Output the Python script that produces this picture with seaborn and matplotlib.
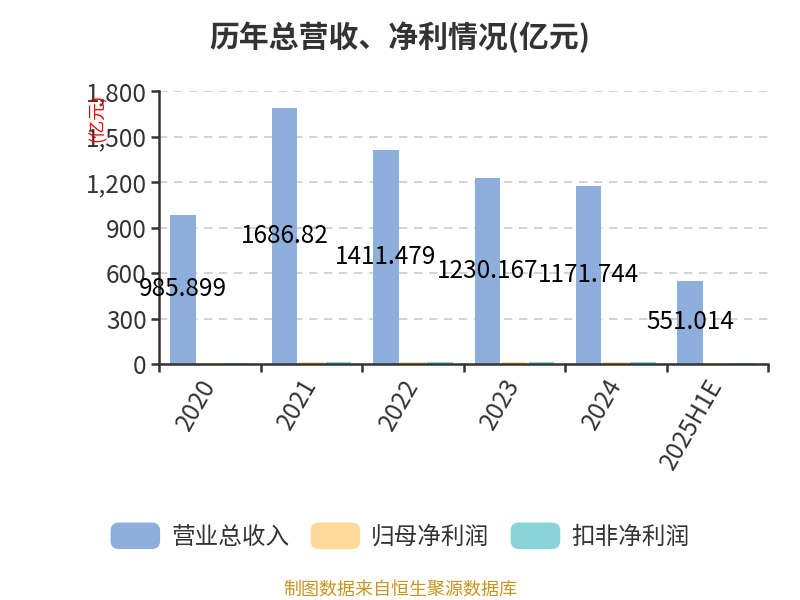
import pandas as pd
import matplotlib.pyplot as plt
import seaborn as sns
from matplotlib.patches import Patch, FancyBboxPatch
from matplotlib.legend_handler import HandlerPatch
from matplotlib.ticker import FuncFormatter, FixedLocator

# Data
years = ["2020", "2021", "2022", "2023", "2024", "2025H1E"]
revenue = [985.899, 1686.82, 1411.479, 1230.167, 1171.744, 551.014]
net_profit = [9.5, 12.5, 13.3, 15.1, 15.8, 9.8]
deducted_profit = [9.1, 12.0, 12.9, 14.6, 15.2, 9.4]
series_names = ["营业总收入", "归母净利润", "扣非净利润"]
colors = ["#8eaedb", "#ffd99a", "#88d4d8"]

df = pd.DataFrame({
    "year": years * 3,
    "value": revenue + net_profit + deducted_profit,
    "series": [series_names[0]] * 6 + [series_names[1]] * 6 + [series_names[2]] * 6,
})

sns.set_theme(style="white")
plt.rcParams["font.family"] = ["Noto Sans CJK SC", "DejaVu Sans"]

fig = plt.figure(figsize=(8, 6), dpi=100)
ax = fig.add_axes([0.199, 0.393, 0.761, 0.455])

sns.barplot(data=df, x="year", y="value", hue="series", palette=colors,
            saturation=1, width=0.8, gap=0.06, edgecolor="none",
            ax=ax, legend=False)

# value labels on revenue bars
ax.bar_label(ax.containers[0], labels=[str(v) for v in revenue],
             label_type="center", fontsize=17.5, color="black")

ax.set_xlim(-0.5, 5.5)
ax.set_ylim(0, 1800)
ax.set_yticks(range(0, 1801, 300))
ax.yaxis.set_major_formatter(FuncFormatter(lambda v, p: f"{int(v):,}"))
ax.set_xlabel("")
ax.set_ylabel("")

# grid
ax.yaxis.grid(True, color="#cccccc", linestyle=(0, (5, 4)), linewidth=1.2)
ax.set_axisbelow(True)

for s in ["top", "right"]:
    ax.spines[s].set_visible(False)
for s in ["left", "bottom"]:
    ax.spines[s].set_color("#333333")
    ax.spines[s].set_linewidth(1.8)

ax.tick_params(axis="y", which="major", direction="out", length=6, width=1.8,
               color="#333333", labelsize=17.5, labelcolor="#333333", left=True,
               pad=3)
ax.tick_params(axis="x", which="major", length=0, labelsize=17.5,
               labelcolor="#333333", pad=12)
ax.xaxis.set_minor_locator(FixedLocator([i - 0.5 for i in range(len(years) + 1)]))
ax.tick_params(axis="x", which="minor", direction="out", length=6, width=1.8,
               color="#333333", bottom=True)
for lbl in ax.get_xticklabels():
    lbl.set_rotation(60)
    lbl.set_ha("right")
    lbl.set_va("center")
    lbl.set_rotation_mode("anchor")

fig.text(0.121, 0.803, "(亿元)", rotation=90, color="red", fontsize=13,
         ha="center", va="center")

fig.suptitle("历年总营收、净利情况(亿元)", fontsize=21.5, fontweight="bold",
             color="#333333", y=0.965)


class RoundHandler(HandlerPatch):
    def create_artists(self, legend, orig_handle, xdescent, ydescent,
                       width, height, fontsize, trans):
        p = FancyBboxPatch((-xdescent, -ydescent), width, height,
                           boxstyle="round,pad=0,rounding_size=6",
                           facecolor=orig_handle.get_facecolor(),
                           edgecolor="none", transform=trans)
        return [p]


handles = [Patch(facecolor=c) for c in colors]
fig.legend(handles, series_names, loc="center", bbox_to_anchor=(0.5, 0.107),
           ncol=3, frameon=False, fontsize=17, labelcolor="#333333",
           handler_map={Patch: RoundHandler()}, handlelength=2.1,
           handleheight=1.35, columnspacing=0.9, handletextpad=0.47)

fig.text(0.5, 0.017, "制图数据来自恒生聚源数据库", color="#c8961e", fontsize=13,
         ha="center", va="center")

fig.savefig("out.png", dpi=100)
